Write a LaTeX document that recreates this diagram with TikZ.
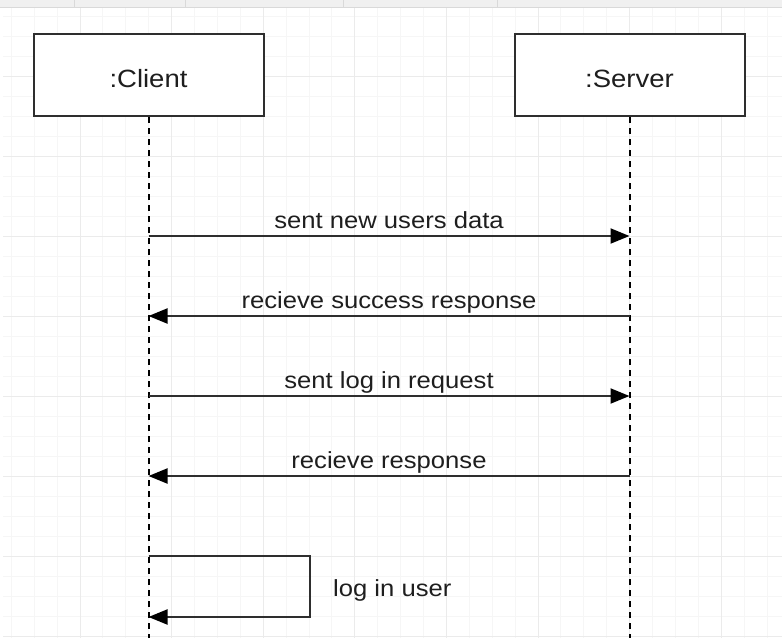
\documentclass[tikz,border=0pt]{standalone}
\usepackage{fontspec}
\setmainfont[FakeStretch=1.1]{Liberation Sans}
\usetikzlibrary{arrows.meta,positioning}
\definecolor{gridminor}{HTML}{F6F6F6}
\definecolor{gridmajor}{HTML}{EBEBEB}
\definecolor{barfill}{HTML}{F0F0F0}
\definecolor{barline}{HTML}{D9D9D9}
\definecolor{ink}{HTML}{2E2E2E}
\definecolor{txt}{HTML}{1E1E1E}
\tikzset{
    actor/.style={draw=ink, line width=2pt, fill=white, minimum width=230pt, minimum height=82pt, inner sep=0pt, text height=25pt, text depth=0pt, text=txt, font=\fontsize{25}{29}\selectfont},
    lifeline/.style={draw=black, line width=2pt, dash pattern=on 6pt off 5pt},
    msg/.style={-{Triangle[length=19pt, width=15pt, color=black]}, draw=ink, line width=2pt},
    lbl/.style={text=txt, inner sep=0pt, font=\fontsize{23.3}{27}\selectfont},
    note/.style={lbl, anchor=base, yshift=8pt},
    minor/.style={draw=gridminor, line width=0.9pt},
    major/.style={draw=gridmajor, line width=0.9pt}
}
\begin{document}
\begin{tikzpicture}[x=1pt, y=-1pt]
    \useasboundingbox (0,0) rectangle (782,638);
    % background grid
    \foreach \gx in {0,...,33}
        \draw[minor] ({11.3+22.9*\gx},8) -- ({11.3+22.9*\gx},638);
    \foreach \gy in {0,...,31}
        \draw[minor] (3,{16+20*\gy}) -- (782,{16+20*\gy});
    \foreach \gx in {0,...,7}
        \draw[major] ({80+91.6*\gx},8) -- ({80+91.6*\gx},638);
    \foreach \gy in {0,...,7}
        \draw[major] (3,{76+80*\gy}) -- (782,{76+80*\gy});
    % top bar
    \fill[barfill] (0,0) rectangle (782,7);
    \draw[barline] (0,7) -- (782,7);
    \foreach \sx in {74,185,343,497}
        \draw[barline] (\sx,0) -- (\sx,7);

    % actors
    \node[actor] (client) at (148.5,75) {:Client};
    \node[actor, right=249pt of client] (server) {:Server};

    % lifelines
    \coordinate (bottom) at (0,638);
    \draw[lifeline] (client.south) -- (client.south |- bottom);
    \draw[lifeline] (server.south) -- (server.south |- bottom);

    % messages
    \coordinate (m1) at (0,236);
    \coordinate (m2) at (0,316);
    \coordinate (m3) at (0,396);
    \coordinate (m4) at (0,476);
    \draw[msg] (client.south |- m1) -- node[note] {sent new users data} (server.south |- m1);
    \draw[msg] (server.south |- m2) -- node[note] {recieve success response} (client.south |- m2);
    \draw[msg] (client.south |- m3) -- node[note] {sent log in request} (server.south |- m3);
    \draw[msg] (server.south |- m4) -- node[note] {recieve response} (client.south |- m4);

    % self message
    \coordinate (m5) at (310,556);
    \coordinate (m6) at (310,617);
    \draw[msg] (client.south |- m5) -- (m5) -- (m6) -- (client.south |- m6);
    \node[lbl, anchor=base west] (self label) at (333,596) {log in user};
\end{tikzpicture}
\end{document}
